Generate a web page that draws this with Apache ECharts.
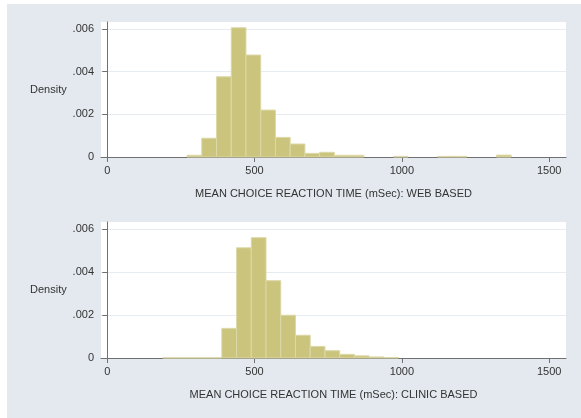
<!DOCTYPE html>
<html>
<head>
<meta charset="utf-8">
<script src="https://cdn.jsdelivr.net/npm/echarts@6/dist/echarts.min.js"></script>
<style>
html,body{margin:0;padding:0;background:#ffffff;}
#bg{position:absolute;left:7px;top:4px;width:574px;height:414px;background:#e3e9ef;}
#chart{position:absolute;left:0;top:0;width:581px;height:418px;}
</style>
</head>
<body>
<div id="bg"></div>
<div id="chart"></div>
<script>
// Histogram data (bin start in mSec, density); bin width 50 mSec
const binWidth = 50;
const webBins = [271, 321, 371, 421, 471, 521, 571, 621, 671, 721, 771, 821, 871, 921, 971, 1021, 1071, 1121, 1171, 1221, 1271, 1321];
const webDensity = [0.00008, 0.00088, 0.00376, 0.00606, 0.00478, 0.0022, 0.00092, 0.00061, 0.00017, 0.00022, 0.00008, 0.00008, 0, 0, 0.00003, 0, 0, 0.00003, 0.00003, 0, 0, 0.00009];
const clinicBins = [189, 239, 289, 339, 389, 439, 489, 539, 589, 639, 689, 739, 789, 839, 889, 939];
const clinicDensity = [0.00001, 0.00001, 0.00001, 0.00001, 0.00138, 0.00513, 0.0056, 0.0036, 0.00199, 0.00106, 0.00054, 0.00034, 0.00017, 0.0001, 0.00005, 0.00002];
const xTicks = [0, 500, 1000, 1500];
const yTicks = [0, 0.002, 0.004, 0.006];
const xTitles = ['MEAN CHOICE REACTION TIME (mSec): WEB BASED', 'MEAN CHOICE REACTION TIME (mSec): CLINIC BASED'];
const yTitle = 'Density';

const chart = echarts.init(document.getElementById('chart'), null, {renderer: 'canvas'});
const textColor = '#333333';
const axisColor = '#707070';
const fontFamily = 'Liberation Sans, Arial, sans-serif';

function yFmt(v) {
  if (v === 0) return '0';
  const s = (+v.toFixed(4)).toString();
  return s.replace(/^0/, '');
}

function makeX(gi) {
  return {
    type: 'value', gridIndex: gi, min: -21, max: 1557,
    name: xTitles[gi], nameLocation: 'middle', nameGap: 31,
    nameTextStyle: {color: textColor, fontSize: 11, fontFamily: fontFamily},
    axisLine: {show: true, onZero: false, lineStyle: {color: axisColor, width: 1}},
    axisTick: {show: true, length: 5, customValues: xTicks, lineStyle: {color: axisColor}},
    axisLabel: {customValues: xTicks, margin: 8, color: textColor, fontSize: 11, fontFamily: fontFamily,
      formatter: function (v) { return String(v); }},
    splitLine: {show: false}
  };
}
function makeY(gi) {
  return {
    type: 'value', gridIndex: gi, min: 0, max: 0.00633,
    name: yTitle, nameLocation: 'middle', nameGap: 34, nameRotate: 0,
    nameTextStyle: {color: textColor, fontSize: 11, fontFamily: fontFamily, padding: [6, 0, 0, 0]},
    axisLine: {show: true, lineStyle: {color: axisColor, width: 1}},
    axisTick: {show: true, length: 5, customValues: yTicks, lineStyle: {color: axisColor}},
    axisLabel: {customValues: yTicks, margin: 7, color: textColor, fontSize: 11, fontFamily: fontFamily, formatter: yFmt},
    splitLine: {show: true, lineStyle: {color: '#e6ecf1', width: 1}}
  };
}
function histSeries(gi, bins, dens) {
  return {
    type: 'custom', xAxisIndex: gi, yAxisIndex: gi,
    data: bins.map((b, i) => [b, dens[i]]),
    encode: {x: 0, y: 1},
    renderItem: function (params, api) {
      const x0 = api.value(0), y = api.value(1);
      if (!y) return null;
      const p0 = api.coord([x0, y]);
      const p1 = api.coord([x0 + binWidth, 0]);
      return {
        type: 'rect',
        shape: {x: p0[0], y: p0[1], width: p1[0] - p0[0], height: p1[1] - p0[1]},
        style: {fill: '#cbc47d', stroke: '#dcd8a8', lineWidth: 1}
      };
    }
  };
}

chart.setOption({
  animation: false,
  grid: [
    {left: 101, top: 22, width: 465, height: 135, show: true, backgroundColor: '#ffffff', borderWidth: 0},
    {left: 101, top: 222, width: 465, height: 136, show: true, backgroundColor: '#ffffff', borderWidth: 0}
  ],
  xAxis: [makeX(0), makeX(1)],
  yAxis: [makeY(0), makeY(1)],
  series: [histSeries(0, webBins, webDensity), histSeries(1, clinicBins, clinicDensity)]
});
</script>
</body>
</html>
